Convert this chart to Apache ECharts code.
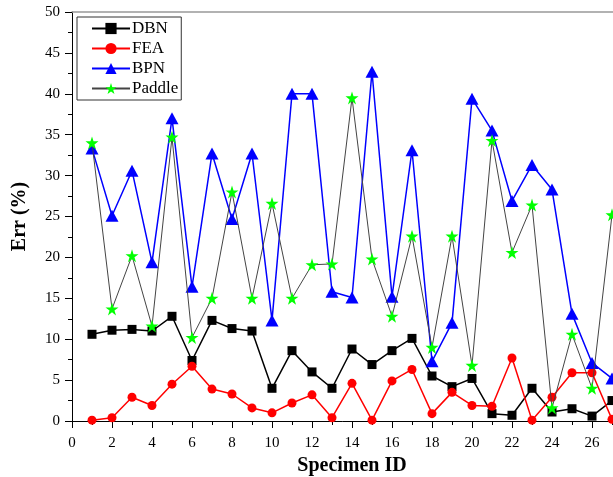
<!DOCTYPE html>
<html>
<head>
<meta charset="utf-8">
<script src="https://cdn.jsdelivr.net/npm/echarts@6/dist/echarts.min.js"></script>
<style>html,body{margin:0;padding:0;background:#fff}#c{width:613px;height:477px}</style>
</head>
<body>
<div id="c"></div>
<script>
const specimenIds = [1,2,3,4,5,6,7,8,9,10,11,12,13,14,15,16,17,18,19,20,21,22,23,24,25,26,27];
const dbn = [10.6,11.1,11.2,11.0,12.8,7.4,12.3,11.3,11.0,4.0,8.6,6.0,4.0,8.8,6.9,8.6,10.1,5.5,4.2,5.2,0.9,0.7,4.0,1.1,1.5,0.6,2.5];
const fea = [0.1,0.4,2.9,1.9,4.5,6.7,3.9,3.3,1.6,1.0,2.2,3.2,0.4,4.6,0.1,4.9,6.3,0.9,3.5,1.9,1.8,7.7,0.1,2.9,5.9,5.9,0.2];
const bpn = [33.3,25.1,30.6,19.4,37.0,16.4,32.7,24.7,32.7,12.3,40.0,40.0,15.8,15.1,42.7,15.2,33.1,7.3,12.0,39.4,35.5,26.9,31.3,28.3,13.1,7.1,5.2];
const paddle = [34.0,13.7,20.2,11.6,34.7,10.2,15.0,28.0,15.0,26.6,15.0,19.1,19.2,39.5,19.8,12.8,22.6,9.0,22.6,6.8,34.3,20.6,26.4,1.6,10.6,4.0,25.2];
const seriesNames = ['DBN','FEA','BPN','Paddle'];

const pair = arr => specimenIds.map((x,i)=>[x,arr[i]]);
const STAR = 'path://M50,0 L61.2,34.5 L97.6,34.5 L68.2,55.9 L79.4,90.5 L50,69.1 L20.6,90.5 L31.8,55.9 L2.4,34.5 L38.8,34.5 Z';
const serif = 'Liberation Serif';

const chart = echarts.init(document.getElementById('c'));
chart.setOption({
  animation:false,
  backgroundColor:'#fff',
  grid:{left:72, top:12, width:560, height:409, outerBoundsMode:'none', containLabel:false},
  legend:{
    orient:'vertical', left:77, top:17,
    data:seriesNames,
    borderColor:'#333', borderWidth:1, borderRadius:0,
    padding:[3,3,3,14], itemGap:3, itemWidth:38, itemHeight:14,
    textStyle:{fontFamily:serif, fontSize:17, color:'#000', padding:[0,0,0,-3]}
  },
  xAxis:[{
    type:'value', min:0, max:28, interval:2,
    name:'Specimen ID', nameLocation:'middle', nameGap:35,
    nameTextStyle:{fontFamily:serif, fontSize:20, fontWeight:'bold', color:'#000'},
    axisLine:{lineStyle:{color:'#000', width:1}},
    axisTick:{inside:false, length:7, lineStyle:{color:'#000'}},
    minorTick:{show:true, splitNumber:2, length:4, lineStyle:{color:'#000'}},
    axisLabel:{fontFamily:serif, fontSize:15, color:'#000', margin:15},
    splitLine:{show:false}
  },{
    type:'value', min:0, max:28, position:'top',
    axisLine:{show:true, lineStyle:{color:'#999', width:1.5}},
    axisTick:{show:false}, axisLabel:{show:false}, splitLine:{show:false}
  }],
  yAxis:{
    type:'value', min:0, max:50, interval:5,
    name:'Err (%)', nameLocation:'middle', nameGap:42,
    nameTextStyle:{fontFamily:serif, fontSize:20, fontWeight:'bold', color:'#000'},
    axisLine:{show:true, lineStyle:{color:'#000', width:1}},
    axisTick:{show:true, inside:false, length:7, lineStyle:{color:'#000'}},
    minorTick:{show:true, splitNumber:2, length:4, lineStyle:{color:'#000'}},
    axisLabel:{fontFamily:serif, fontSize:15, color:'#000', margin:12},
    splitLine:{show:false}
  },
  series:[
    {name:'DBN', type:'line', data:pair(dbn), symbol:'rect', symbolSize:9,
     itemStyle:{color:'#000'}, lineStyle:{color:'#000', width:1.5}, z:2},
    {name:'FEA', type:'line', data:pair(fea), symbol:'circle', symbolSize:9,
     itemStyle:{color:'#ff0000'}, lineStyle:{color:'#ff0000', width:1.5}, z:3},
    {name:'BPN', type:'line', data:pair(bpn), symbol:'triangle', symbolSize:[13,12],
     itemStyle:{color:'#0000ff'}, lineStyle:{color:'#0000ff', width:1.5}, z:4},
    {name:'Paddle', type:'line', data:pair(paddle), symbol:STAR, symbolSize:13,
     itemStyle:{color:'#00ff00'}, lineStyle:{color:'#444', width:1}, z:5}
  ]
});
</script>
</body>
</html>
